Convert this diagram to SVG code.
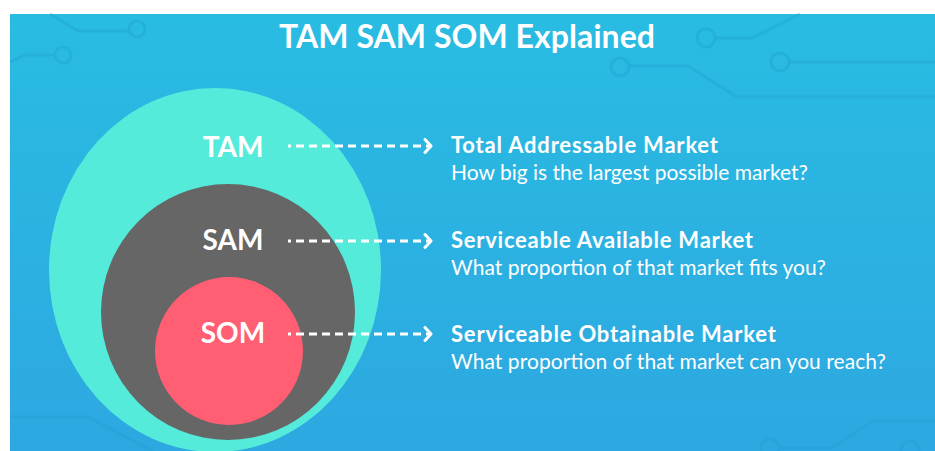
<svg xmlns="http://www.w3.org/2000/svg" width="935" height="451" viewBox="0 0 935 451">
  <defs>
    <linearGradient id="bg" x1="0" y1="0" x2="0" y2="1">
      <stop offset="0" stop-color="#29BCE2"/>
      <stop offset="1" stop-color="#2DA8E1"/>
    </linearGradient>
    <marker id="chev" viewBox="0 0 10 16" refX="8" refY="8" markerWidth="10" markerHeight="16" markerUnits="userSpaceOnUse" orient="auto">
      <polyline points="2,1.5 8,8 2,14.5" fill="none" stroke="#fff" stroke-width="3" stroke-linecap="round" stroke-linejoin="round"/>
    </marker>
  </defs>
  <style>
    .circuit { fill: none; stroke: #1F9FCF; stroke-opacity: 0.35; stroke-width: 3; }
    .label { font-family: Lato, "Open Sans", "Liberation Sans", sans-serif; font-weight: 700; font-size: 28px; fill: #fff; text-anchor: middle; }
    .head { font-family: Lato, "Open Sans", "Liberation Sans", sans-serif; font-weight: 700; font-size: 22px; fill: #fff; }
    .sub { font-family: Lato, "Open Sans", "Liberation Sans", sans-serif; font-weight: 400; font-size: 21px; fill: #fff; }
    .title { font-family: Lato, "Open Sans", "Liberation Sans", sans-serif; font-weight: 700; font-size: 32px; fill: #fff; text-anchor: middle; }
    .dash { fill: none; stroke: #fff; stroke-width: 3; stroke-dasharray: 8 5; }
  </style>
  <rect x="0" y="0" width="935" height="451" fill="#fff"/>
  <rect x="10" y="14" width="925" height="437" fill="url(#bg)"/>
  <g id="background-circuits">
    <path class="circuit" d="M50,14 L78,31 L128,31"/>
    <circle class="circuit" cx="137" cy="29" r="8"/>
    <path class="circuit" d="M10,62 L25,55 L54,55"/>
    <circle class="circuit" cx="63" cy="55" r="8"/>
    <circle class="circuit" cx="706" cy="38" r="9"/>
    <path class="circuit" d="M715,38 L752,38 L800,14"/>
    <circle class="circuit" cx="780" cy="62" r="9"/>
    <path class="circuit" d="M789,62 L935,62"/>
    <circle class="circuit" cx="620" cy="67" r="9"/>
    <path class="circuit" d="M629,66 L688,66 L737,97 L935,97"/>
    <path class="circuit" d="M10,417 L88,417 L160,455"/>
    <path class="circuit" d="M935,421 L873,421 L832,448 L779,448"/>
    <circle class="circuit" cx="770" cy="448" r="9"/>
    <circle class="circuit" cx="910" cy="450" r="9"/>
  </g>
  <text class="title" x="467" y="48" textLength="376">TAM SAM SOM Explained</text>
  <g id="tam">
    <ellipse cx="215" cy="270" rx="166" ry="182" fill="#55EBDB"/>
    <text class="label" x="233" y="157">TAM</text>
  </g>
  <g id="sam">
    <ellipse cx="228" cy="312" rx="127" ry="128" fill="#666666"/>
    <text class="label" x="233" y="250">SAM</text>
  </g>
  <g id="som">
    <circle cx="229" cy="351" r="74" fill="#FF5E73"/>
    <text class="label" x="233" y="343">SOM</text>
  </g>
  <g id="connectors">
    <path class="dash" d="M288,146 L431,146" stroke-dashoffset="5" marker-end="url(#chev)"/>
    <path class="dash" d="M288,241 L431,241" stroke-dashoffset="5" marker-end="url(#chev)"/>
    <path class="dash" d="M288,334 L431,334" stroke-dashoffset="5" marker-end="url(#chev)"/>
  </g>
  <g id="tam-desc">
    <text class="head" x="451" y="153" textLength="267">Total Addressable Market</text>
    <text class="sub" x="451" y="180" textLength="357">How big is the largest possible market?</text>
  </g>
  <g id="sam-desc">
    <text class="head" x="451" y="248" textLength="302">Serviceable Available Market</text>
    <text class="sub" x="451" y="275" textLength="375">What proportion of that market fits you?</text>
  </g>
  <g id="som-desc">
    <text class="head" x="451" y="342" textLength="325">Serviceable Obtainable Market</text>
    <text class="sub" x="451" y="369" textLength="435">What proportion of that market can you reach?</text>
  </g>
</svg>
